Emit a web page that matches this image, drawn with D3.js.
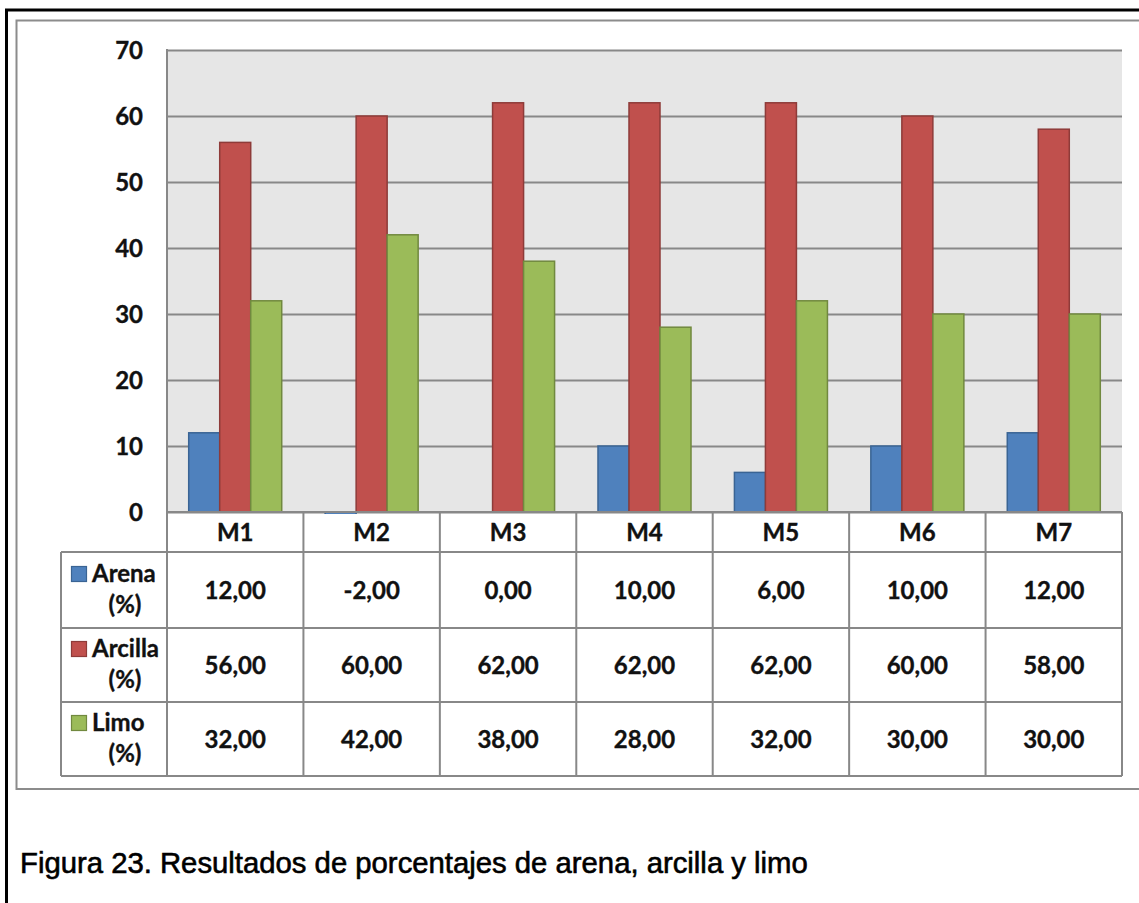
<!DOCTYPE html>
<html>
<head>
<meta charset="utf-8">
<script src="https://cdn.jsdelivr.net/npm/d3@7"></script>
<style>
  html, body { margin: 0; padding: 0; background: #fff; }
  svg { display: block; }
  .lbl { font-family: Lato, "Open Sans", sans-serif; font-weight: 700; font-size: 24px; fill: #111; stroke: #111; stroke-width: 0.35px; }
  .caption { font-family: "Liberation Sans", Arial, sans-serif; font-size: 27px; fill: #000; stroke: #000; stroke-width: 0.6px; }
</style>
</head>
<body>
<svg id="chart" width="1139" height="903"></svg>
<script>
// Muestras
const samples = ["M1", "M2", "M3", "M4", "M5", "M6", "M7"];
// Series (%)
const seriesNames = ["Arena", "Arcilla", "Limo"];
const arena   = [12, -2, 0, 10, 6, 10, 12];
const arcilla = [56, 60, 62, 62, 62, 60, 58];
const limo    = [32, 42, 38, 28, 32, 30, 30];
const yTicks = [0, 10, 20, 30, 40, 50, 60, 70];
const captionText = "Figura 23. Resultados de porcentajes de arena, arcilla y limo";

const fills   = ["#4F81BD", "#C0504D", "#9BBB59"];
const strokes = ["#3A6494", "#8E3B39", "#71893F"];
const gridCol = "#888888";

const series = [
  { name: seriesNames[0], values: arena },
  { name: seriesNames[1], values: arcilla },
  { name: seriesNames[2], values: limo }
];

const svg = d3.select("#chart");

// Outer frames
svg.append("rect").attr("x", 6.5).attr("y", 10).attr("width", 1160).attr("height", 1000)
  .attr("fill", "none").attr("stroke", "#000").attr("stroke-width", 3);
svg.append("rect").attr("x", 16.5).attr("y", 20.5).attr("width", 1140).attr("height", 768.5)
  .attr("fill", "none").attr("stroke", "#8c8c8c").attr("stroke-width", 2);

// Plot geometry
const plotL = 167, plotR = 1122, plotT = 50, plotB = 512;
const x = d3.scaleBand().domain(samples).range([plotL, plotR]).paddingInner(0).paddingOuter(0);
const xi = d3.scaleBand().domain(seriesNames).range([0, x.bandwidth()]).paddingInner(0).paddingOuter(0.7);
const y = d3.scaleLinear().domain([0, 70]).range([plotB, plotT]);

// Plot background
svg.append("rect").attr("x", plotL).attr("y", plotT).attr("width", plotR - plotL).attr("height", plotB - plotT)
  .attr("fill", "#E6E6E6");

// Gridlines
const grid = svg.append("g").attr("transform", `translate(${plotL},0)`)
  .call(d3.axisLeft(y).tickValues(yTicks).tickSize(-(plotR - plotL)).tickFormat(""));
grid.select(".domain").remove();
grid.selectAll("line").attr("stroke", gridCol).attr("stroke-width", 2);

// Y axis labels
const yAxis = svg.append("g").attr("transform", `translate(${plotL - 24},0)`)
  .call(d3.axisLeft(y).tickValues(yTicks).tickSize(0).tickPadding(0).tickFormat(d3.format("d")));
yAxis.select(".domain").remove();
yAxis.selectAll("text").attr("class", "lbl").attr("font-size", null).attr("font-family", null)
  .attr("fill", null).attr("dy", "0.36em");

// Plot left edge
svg.append("line").attr("x1", plotL).attr("x2", plotL).attr("y1", plotT - 1).attr("y2", plotB)
  .attr("stroke", gridCol).attr("stroke-width", 2);

// Bars (clipped just below the zero line)
svg.append("clipPath").attr("id", "plotClip").append("rect")
  .attr("x", plotL).attr("y", plotT - 5).attr("width", plotR - plotL).attr("height", plotB - plotT + 7);

const bars = svg.append("g").attr("clip-path", "url(#plotClip)");
series.forEach((s, si) => {
  bars.selectAll(null).data(s.values).join("rect")
    .attr("x", (d, i) => x(samples[i]) + xi(s.name))
    .attr("width", xi.bandwidth())
    .attr("y", d => y(Math.max(0, d)))
    .attr("height", d => Math.abs(y(d) - y(0)))
    .attr("fill", fills[si])
    .attr("stroke", strokes[si])
    .attr("stroke-width", 1.5);
});

// Data table
const fmtLocale = d3.formatLocale({ decimal: ",", thousands: ".", grouping: [3], currency: ["", ""], minus: "-" });
const fmt = fmtLocale.format(".2f");
const legL = 61;
const rowY = [plotB, 552, 628, 702, 776];
const tbl = svg.append("g");

// header row labels
samples.forEach(s => {
  tbl.append("text").attr("class", "lbl").attr("x", x(s) + x.bandwidth() / 2).attr("y", (rowY[0] + rowY[1]) / 2)
    .attr("text-anchor", "middle").attr("dy", "0.36em").text(s);
});

// data rows
series.forEach((s, si) => {
  const yTop = rowY[si + 1], yBot = rowY[si + 2], yMid = (yTop + yBot) / 2;
  s.values.forEach((v, i) => {
    tbl.append("text").attr("class", "lbl").attr("x", x(samples[i]) + x.bandwidth() / 2).attr("y", yMid)
      .attr("text-anchor", "middle").attr("dy", "0.36em").text(fmt(v));
  });
  // legend key + name
  const line1 = yMid - 8, line2 = yMid + 23;
  tbl.append("rect").attr("x", 71.5).attr("y", line1 - 15.5).attr("width", 15).attr("height", 15)
    .attr("fill", fills[si]).attr("stroke", strokes[si]).attr("stroke-width", 1.2);
  tbl.append("text").attr("class", "lbl").attr("x", 92).attr("y", line1).text(s.name);
  tbl.append("text").attr("class", "lbl").attr("x", 125).attr("y", line2).attr("text-anchor", "middle").text("(%)");
});

// table grid lines
const tLines = tbl.append("g").attr("stroke", gridCol).attr("stroke-width", 2);
// horizontal
tLines.append("line").attr("x1", plotL).attr("x2", plotR).attr("y1", rowY[0]).attr("y2", rowY[0]);
rowY.slice(1).forEach(yy => {
  tLines.append("line").attr("x1", legL).attr("x2", plotR).attr("y1", yy).attr("y2", yy);
});
// vertical
tLines.append("line").attr("x1", legL).attr("x2", legL).attr("y1", rowY[1]).attr("y2", rowY[4]);
const colEdges = samples.map(s => x(s)).concat([plotR]);
colEdges.forEach(xx => {
  tLines.append("line").attr("x1", xx).attr("x2", xx).attr("y1", rowY[0]).attr("y2", rowY[4]);
});

// Caption
const cap = svg.append("text").attr("class", "caption").attr("x", 20).attr("y", 873).text(captionText);
const w = cap.node().getComputedTextLength();
cap.style("font-size", (27 * 788 / w).toFixed(2) + "px");
</script>
</body>
</html>
